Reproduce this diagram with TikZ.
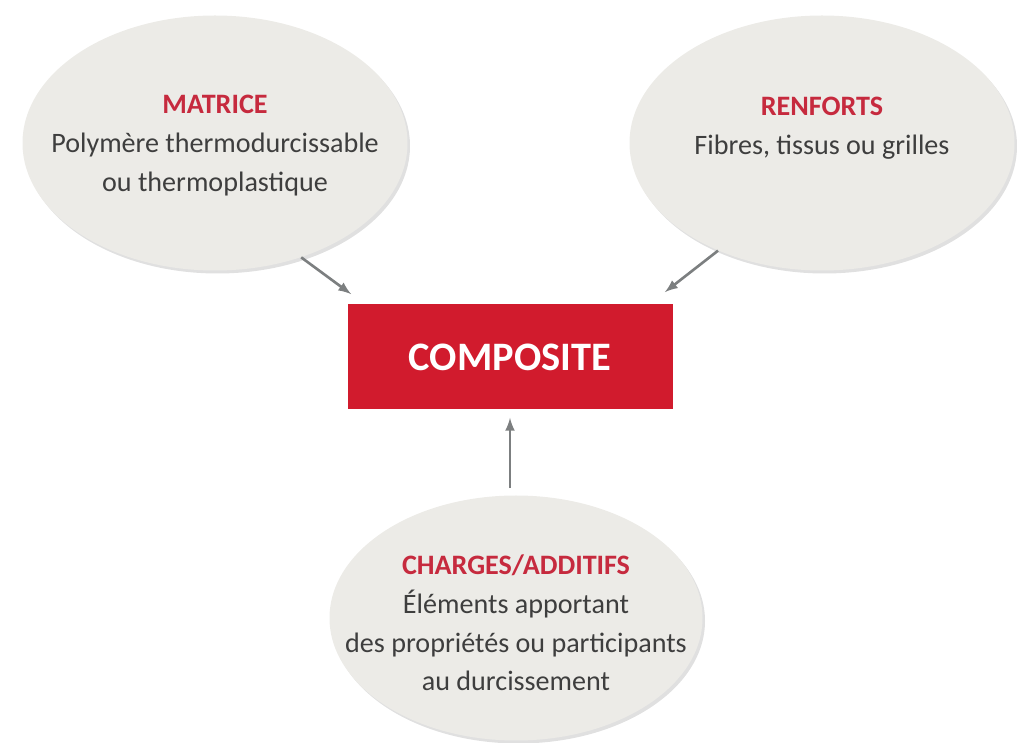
\documentclass[tikz,border=0pt]{standalone}
\usepackage{fontspec}
\setmainfont{Carlito}
\usepackage{tikz}
\usetikzlibrary{calc, arrows, shapes, shadows}
\tikzset{>=latex}
\definecolor{compred}{HTML}{D11B2D}
\definecolor{titlered}{HTML}{C62A3E}
\definecolor{blobgray}{HTML}{ECEBE7}
\definecolor{bodygray}{HTML}{3E3E3E}
\definecolor{arrowgray}{HTML}{7C7F80}
\tikzset{
  blob/.style={ellipse, fill=blobgray, inner sep=0pt,
    drop shadow={shadow xshift=0.05cm, shadow yshift=-0.06cm, fill=black, opacity=0.12}},
  blobtext/.style={align=center, text=bodygray, font=\fontsize{16}{22}\selectfont},
  feed/.style={->, >=latex, arrowgray, line width=1.5pt}
}
\newcommand{\ttl}[1]{{\color{titlered}\bfseries #1}}

\begin{document}
\begin{tikzpicture}[scale = 1]
\useasboundingbox (0,0) rectangle (20.34,14.86);
\node[blob, minimum width=7.7cm, minimum height=5.1cm] (matrice) at (4.30, 12.00) {};
\node[blobtext] (matrice-txt) at (4.30, 11.95)
  {\ttl{MATRICE}\\ Polymère thermodurcissable\\ ou thermoplastique};
\node[blob, minimum width=7.7cm, minimum height=5.1cm] (renforts) at (16.44, 12.00) {};
\node[blobtext] (renforts-txt) at (16.44, 12.30)
  {\ttl{RENFORTS}\\ Fibres, tissus ou grilles};
\node[fill=compred, minimum width=6.5cm, minimum height=2.1cm,
  text=white, font=\fontsize{23}{26}\selectfont\bfseries] (composite) at (10.20, 7.72) {COMPOSITE};
\node[blob, minimum width=7.46cm, minimum height=4.9cm] (charges) at (10.32, 2.50) {};
\node[blobtext] (charges-txt) at (10.32, 2.40)
  {\ttl{CHARGES/ADDITIFS}\\ Éléments apportant\\ des propriétés ou participants\\ au durcissement};
\draw[feed] (matrice.-53) -- ($(composite.north west)+(0.08,0.2)$);
\draw[feed] (renforts.-134) -- ($(composite.north east)+(-0.16,0.24)$);
\draw[feed, shorten <=0.14cm, shorten >=0.16cm] (charges.north -| composite.south) -- (composite.south);
\end{tikzpicture}
\end{document}
